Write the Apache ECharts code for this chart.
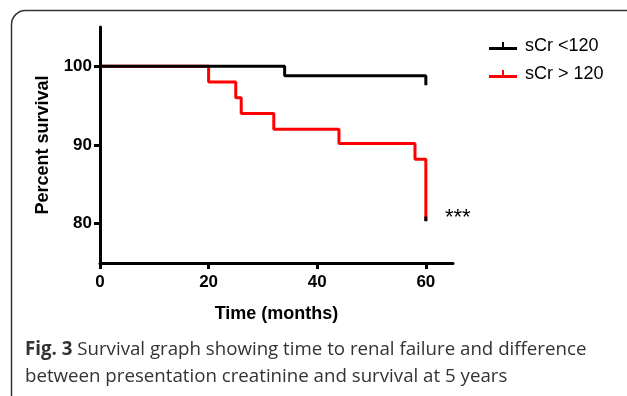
<!DOCTYPE html>
<html>
<head>
<meta charset="utf-8">
<script src="https://cdn.jsdelivr.net/npm/echarts@6/dist/echarts.min.js"></script>
<style>
html,body{margin:0;padding:0;background:#fff;}
#chart{width:627px;height:396px;}
</style>
</head>
<body>
<div id="chart"></div>
<script>
// Kaplan-Meier step points [month, percent survival]
var seriesNames = ['sCr <120', 'sCr > 120'];
var lowCrTimes = [0, 34, 60];
var lowCrSurvival = [100, 98.8, 97.6];
var highCrTimes = [0, 20, 25, 26, 32, 44, 58, 60];
var highCrSurvival = [100, 98, 96, 94, 92, 90.2, 88.2, 80.4];
// censor tick at the end of the red curve
var censorTimes = [60, 60];
var censorValues = [80.9, 80.3];
var xTicks = [0, 20, 40, 60];
var yTicks = [80, 90, 100];
var xRange = [0, 65];
var yRange = [75, 105];

function pairs(xs, ys) { return xs.map(function (x, i) { return [x, ys[i]]; }); }

var chart = echarts.init(document.getElementById('chart'), null, {renderer: 'canvas'});
var legendIcon = 'path://M0,5 L28,5 L28,8 L0,8 Z M13,0 L15,0 L15,6 L13,6 Z';
chart.setOption({
  animation: false,
  backgroundColor: '#fff',
  grid: {left: 100, right: 174, top: 27, bottom: 133, containLabel: false},
  xAxis: {
    type: 'value', min: xRange[0], max: xRange[1],
    name: 'Time (months)', nameLocation: 'middle', nameGap: 42,
    nameTextStyle: {fontFamily: 'Liberation Sans, Arial', fontWeight: 'bold', fontSize: 18, color: '#000'},
    axisLine: {show: true, onZero: false, lineStyle: {color: '#000', width: 3}},
    axisTick: {show: true, length: 6, lineStyle: {color: '#000', width: 3}, customValues: xTicks},
    axisLabel: {fontFamily: 'Liberation Sans, Arial', fontWeight: 'bold', fontSize: 17, color: '#000', margin: 11, customValues: xTicks},
    splitLine: {show: false}
  },
  yAxis: {
    type: 'value', min: yRange[0], max: yRange[1],
    name: 'Percent survival', nameLocation: 'middle', nameGap: 48, nameRotate: 90,
    nameTextStyle: {fontFamily: 'Liberation Sans, Arial', fontWeight: 'bold', fontSize: 18, color: '#000'},
    axisLine: {show: true, onZero: false, lineStyle: {color: '#000', width: 3}},
    axisTick: {show: true, length: 6, lineStyle: {color: '#000', width: 3}, customValues: yTicks},
    axisLabel: {fontFamily: 'Liberation Sans, Arial', fontWeight: 'bold', fontSize: 17, color: '#000', margin: 8, customValues: yTicks},
    splitLine: {show: false}
  },
  legend: {
    orient: 'vertical', left: 484, top: 32, itemGap: 10,
    itemWidth: 28, itemHeight: 8,
    textStyle: {fontFamily: 'Liberation Sans, Arial', fontSize: 18, color: '#000', padding: [0, 0, 0, 3]},
    data: [
      {name: seriesNames[0], icon: legendIcon},
      {name: seriesNames[1], icon: legendIcon}
    ]
  },
  series: [
    {
      name: seriesNames[1], type: 'line', step: 'end', showSymbol: false,
      color: '#ff0000', lineStyle: {color: '#ff0000', width: 3},
      data: pairs(highCrTimes, highCrSurvival), z: 2
    },
    {
      name: seriesNames[0], type: 'line', step: 'end', showSymbol: false,
      color: '#000', lineStyle: {color: '#000', width: 3},
      data: pairs(lowCrTimes, lowCrSurvival), z: 3
    },
    {
      name: 'censor', type: 'line', showSymbol: false, silent: true,
      lineStyle: {color: '#000', width: 3},
      data: pairs(censorTimes, censorValues), z: 4
    }
  ],
  graphic: [
    {type: 'rect', left: 9, top: 8, z: -10, silent: true,
      shape: {width: 640, height: 420, r: 14},
      style: {fill: 'none', stroke: '#333', lineWidth: 1.5}},
    {type: 'text', left: 445, top: 207, silent: true,
      style: {text: '***', font: '22px "Liberation Sans", Arial', fill: '#000'}},
    {type: 'text', left: 25, top: 336, silent: true,
      style: {
        text: '{b|Fig. 3} Survival graph showing time to renal failure and difference\nbetween presentation creatinine and survival at 5 years',
        font: '18.7px "Open Sans"', fill: '#333', lineHeight: 27,
        rich: {b: {fontFamily: 'Open Sans', fontWeight: 'bold', fontSize: 18.7, fill: '#333', lineHeight: 27}}
      }}
  ]
});
</script>
</body>
</html>
